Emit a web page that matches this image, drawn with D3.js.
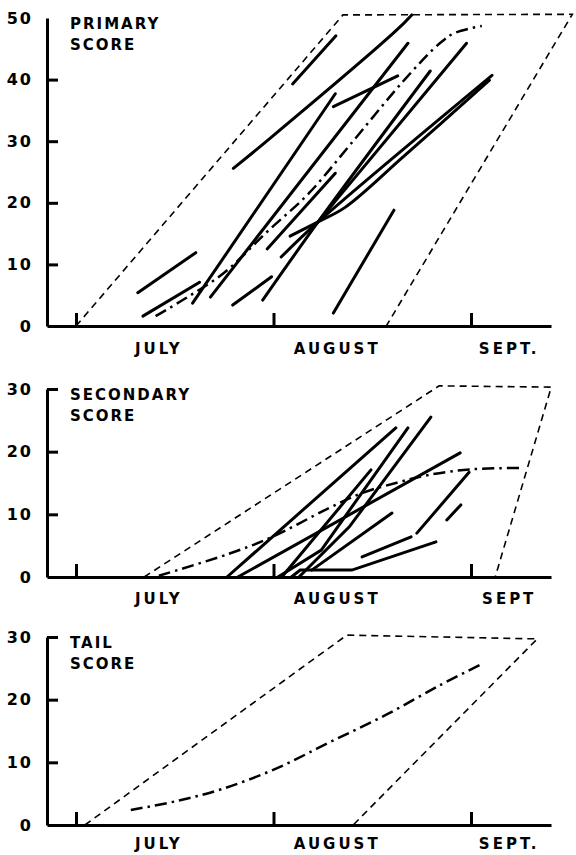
<!DOCTYPE html>
<html>
<head>
<meta charset="utf-8">
<script src="https://d3js.org/d3.v7.min.js"></script>
<style>
  body { margin: 0; background: #fff; }
  svg text { font-family: "DejaVu Sans", sans-serif; font-weight: bold; fill: #000; }
  .axis path, .axis line { stroke: #000; stroke-width: 3; }
</style>
</head>
<body>
<svg width="576" height="855"></svg>
<script>
// x values are days counted from 1 July, y values are scores
const monthTicks = [0, 31, 62];
const monthLabels = ["JULY", "AUGUST", "SEPT."];
const secondaryMonthLabels = ["JULY", "AUGUST", "SEPT"];
const monthLabelDays = [13, 41, 68];

// primary score
const primaryTicks = [0, 10, 20, 30, 40, 50];
const primaryEnvelope = [[0, 0], [41.9, 50.5], [77.9, 50.6], [48.7, 0]];
const primaryMedian = [[12.5, 1.6], [17.2, 4.5], [23.2, 8.6], [30.0, 15.3], [36.6, 21.6],
  [43.0, 29.4], [51.5, 39.9], [57.1, 45.9], [59.5, 47.6], [63.7, 48.7]];
const primaryLines = [
  [[34.0, 39.3], [40.8, 47.1]],
  [[24.7, 25.6], [30.5, 30.5], [50.4, 48.1], [52.7, 50.5]],
  [[18.3, 3.7], [40.7, 37.7]],
  [[21.1, 4.7], [52.1, 45.9]],
  [[40.4, 35.6], [50.5, 40.6]],
  [[9.7, 5.4], [18.8, 11.9]],
  [[10.5, 1.6], [19.4, 7.1]],
  [[24.6, 3.4], [30.7, 8.0]],
  [[29.3, 4.2], [38.0, 16.9], [55.6, 41.4]],
  [[38.0, 16.9], [61.3, 45.9]],
  [[32.2, 11.2], [38.0, 16.9], [65.3, 40.7]],
  [[33.6, 14.6], [38.0, 16.9], [42.3, 19.3], [51.3, 27.4], [64.9, 39.9]],
  [[30.0, 12.5], [40.7, 24.8]],
  [[40.4, 2.1], [49.9, 18.8]]
];

// secondary score
const secondaryTicks = [0, 10, 20, 30];
const secondaryEnvelope = [[10.7, 0], [57.0, 30.5], [74.6, 30.3], [65.8, 0]];
const secondaryMedian = [[13.0, 0.2], [24.0, 3.7], [30.8, 6.4], [39.7, 11.0], [44.9, 13.4],
  [50.2, 15.0], [55.4, 16.3], [62.2, 17.2], [70.0, 17.4]];
const secondaryLines = [
  [[23.7, 0], [50.2, 23.8]],
  [[25.4, 0], [60.3, 19.8]],
  [[31.7, 0], [38.5, 4.3], [52.1, 23.8]],
  [[35.0, 0], [42.9, 8.0], [55.7, 25.5]],
  [[32.3, 0], [46.3, 17.1]],
  [[37.0, 1.1], [49.6, 10.2]],
  [[33.8, 0], [35.2, 1.1], [43.3, 1.1], [56.5, 5.6]],
  [[44.9, 3.2], [52.6, 6.4]],
  [[53.5, 7.0], [61.7, 16.7]],
  [[58.2, 9.1], [60.4, 11.5]]
];

// tail score
const tailTicks = [0, 10, 20, 30];
const tailEnvelope = [[1.4, 0], [42.5, 30.3], [72.4, 29.7], [43.5, 0]];
const tailMedian = [[8.6, 2.4], [15.7, 3.8], [22.8, 5.7], [31.4, 9.0], [40.0, 13.3],
  [48.7, 17.6], [57.3, 22.4], [63.7, 25.7]];

const panels = [
  { title: ["PRIMARY", "SCORE"], max: 50, ticks: primaryTicks, envelope: primaryEnvelope,
    median: primaryMedian, lines: primaryLines, months: monthLabels,
    bottom: 326, top: 18, labelGap: 28, noTopTick: true, smooth: true },
  { title: ["SECONDARY", "SCORE"], max: 30, ticks: secondaryTicks, envelope: secondaryEnvelope,
    median: secondaryMedian, lines: secondaryLines, months: secondaryMonthLabels,
    bottom: 577, top: 389, labelGap: 27, smooth: false },
  { title: ["TAIL", "SCORE"], max: 30, ticks: tailTicks, envelope: tailEnvelope,
    median: tailMedian, lines: [], months: monthLabels,
    bottom: 825, top: 637, labelGap: 24, smooth: false }
];

const svg = d3.select("svg");
const left = 47, right = 551;

// same day scale for all three panels: 1 July at 76px, 1 Sept at 471px
const pxPerDay = (471 - 76) / 62;
const x = d3.scaleLinear()
  .domain([(left - 76) / pxPerDay, (right - 76) / pxPerDay])
  .range([left, right]);

panels.forEach(p => {
  const y = d3.scaleLinear().domain([0, p.max]).range([p.bottom, p.top]);
  const g = svg.append("g");

  // y axis, ticks pointing inwards
  const yAxis = d3.axisLeft(y).tickValues(p.ticks).tickSize(-11).tickPadding(14).tickSizeOuter(0);
  const ya = g.append("g").attr("class", "axis")
    .attr("transform", "translate(" + left + ",0)")
    .call(yAxis);
  ya.selectAll(".tick text").style("font-size", "16px").style("letter-spacing", "2px");
  ya.selectAll(".tick").filter(d => d === 0 || (p.noTopTick && d === p.max))
    .select("line").remove();

  // x axis, month ticks pointing up
  const xAxis = d3.axisBottom(x).tickValues(monthTicks).tickSize(-13).tickFormat("").tickSizeOuter(0);
  g.append("g").attr("class", "axis")
    .attr("transform", "translate(0," + p.bottom + ")")
    .call(xAxis);

  g.selectAll(".month")
    .data(p.months)
    .enter().append("text")
    .attr("class", "month")
    .attr("x", (d, i) => x(monthLabelDays[i]))
    .attr("y", p.bottom + p.labelGap)
    .attr("text-anchor", "middle")
    .style("font-size", "15px")
    .style("letter-spacing", "3px")
    .text(d => d);

  // panel title
  g.selectAll(".title")
    .data(p.title)
    .enter().append("text")
    .attr("class", "title")
    .attr("x", 70)
    .attr("y", (d, i) => p.top + 11 + i * 21)
    .style("font-size", "15px")
    .style("letter-spacing", "2px")
    .text(d => d);

  const line = d3.line().x(d => x(d[0])).y(d => y(d[1]));
  const smoothLine = d3.line().x(d => x(d[0])).y(d => y(d[1])).curve(d3.curveCatmullRom.alpha(0.5));

  // dashed envelope
  g.append("path")
    .datum(p.envelope)
    .attr("d", line)
    .attr("fill", "none")
    .attr("stroke", "#000")
    .attr("stroke-width", 1.6)
    .attr("stroke-dasharray", "7,5");

  // individual records
  g.selectAll(".rec")
    .data(p.lines)
    .enter().append("path")
    .attr("class", "rec")
    .attr("d", p.smooth ? smoothLine : line)
    .attr("fill", "none")
    .attr("stroke", "#000")
    .attr("stroke-width", 3)
    .attr("stroke-linecap", "round");

  // dash-dot mean curve
  g.append("path")
    .datum(p.median)
    .attr("d", smoothLine)
    .attr("fill", "none")
    .attr("stroke", "#000")
    .attr("stroke-width", 2.5)
    .attr("stroke-dasharray", "12,5,2.5,5");
});
</script>
</body>
</html>
